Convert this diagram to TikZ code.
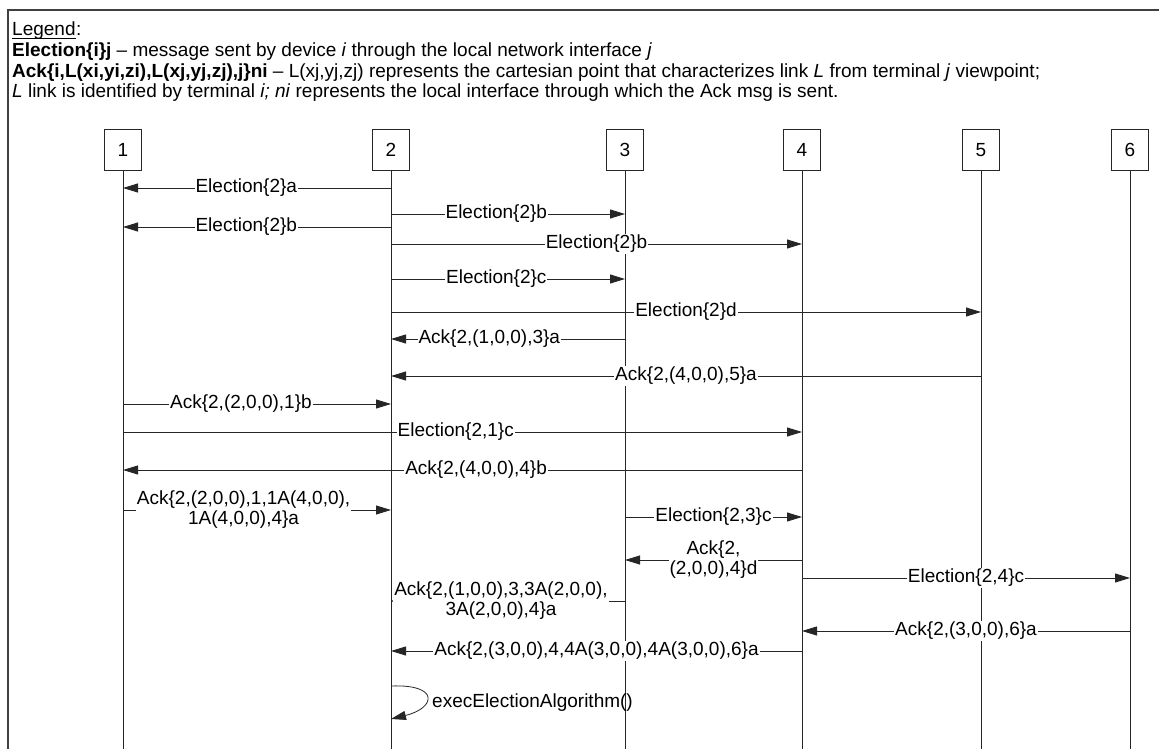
\documentclass[tikz,border=0pt]{standalone}
\usepackage{fontspec}
\setmainfont{Liberation Sans}
\usetikzlibrary{arrows.meta}
\begin{document}
\begin{tikzpicture}[x=1pt,y=-1pt,
  txt/.style={inner sep=0pt, anchor=base west, font=\fontsize{19}{22}\selectfont},
  box/.style={draw=black!85, line width=1pt, minimum width=37pt, minimum height=41pt, inner sep=0pt, font=\fontsize{19}{22}\selectfont},
  life/.style={draw=black!85, line width=1pt},
  msg/.style={draw=black!85, line width=1pt, -{Triangle[length=15pt,width=9pt]}},
  smallmsg/.style={draw=black!85, line width=1pt, -{Triangle[length=5pt,width=4pt]}},
  lbl/.style={fill=white, inner sep=1pt, align=center, font=\fontsize{19}{20}\selectfont},
  uline/.style={draw=black, line width=0.9pt},
  frame/.style={draw=black!75, line width=2pt}]
\useasboundingbox (0,0) rectangle (1159,749);
\fill[white] (0,0) rectangle (1159,749);
\draw[frame] (1159,10) -- (8,10) -- (8,749);
% legend
\node[txt] (leg0) at (12,36) {Legend};
\node[txt, anchor=base west] (leg0c) at (leg0.base east) {:};
\draw[uline] ([yshift=-2.5pt]leg0.base west) -- ([yshift=-2.5pt]leg0.base east);
\node[txt] (leg1) at (12,57) {\textbf{Election\{i\}j} -- message sent by device \textit{i} through the local network interface \textit{j}};
\node[txt] (leg2) at (12,78) {\textbf{Ack\{i,L(xi,yi,zi),L(xj,yj,zj),j\}ni} -- L(xj,yj,zj) represents the cartesian point that characterizes link \textit{L} from terminal \textit{j} viewpoint;};
\node[txt] (leg3) at (12,98) {\textit{L} link is identified by terminal \textit{i; ni} represents the local interface through which the Ack msg is sent.};
% terminals
\node[box] (l1) at (123,150) {1};
\node[box] (l2) at (391,150) {2};
\node[box] (l3) at (625,150) {3};
\node[box] (l4) at (802,150) {4};
\node[box] (l5) at (981,150) {5};
\node[box] (l6) at (1130,150) {6};
\coordinate (b1) at (123,749);
\coordinate (b2) at (391,749);
\coordinate (b3) at (625,749);
\coordinate (b4) at (802,749);
\coordinate (b5) at (981,749);
\coordinate (b6) at (1130,749);
\foreach \i in {1,...,6} {\draw[life] (l\i) -- (b\i);}
% messages
\draw[msg] (l2 |- 0,188) -- node[lbl, pos=0.54]{Election\{2\}a} (l1 |- 0,188);
\draw[msg] (l2 |- 0,214) -- node[lbl, pos=0.45]{Election\{2\}b} (l3 |- 0,214);
\draw[msg] (l2 |- 0,227) -- node[lbl, pos=0.54]{Election\{2\}b} (l1 |- 0,227);
\draw[msg] (l2 |- 0,244) -- node[lbl]{Election\{2\}b} (l4 |- 0,244);
\draw[msg] (l2 |- 0,279) -- node[lbl, pos=0.45]{Election\{2\}c} (l3 |- 0,279);
\draw[msg] (l2 |- 0,312) -- node[lbl]{Election\{2\}d} (l5 |- 0,312);
\draw[msg] (l3 |- 0,339) -- node[lbl, pos=0.58]{Ack\{2,(1,0,0),3\}a} (l2 |- 0,339);
\draw[msg] (l5 |- 0,376) -- node[lbl]{Ack\{2,(4,0,0),5\}a} (l2 |- 0,376);
\draw[msg] (l1 |- 0,404) -- node[lbl, pos=0.44]{Ack\{2,(2,0,0),1\}b} (l2 |- 0,404);
\draw[msg] (l1 |- 0,432) -- node[lbl, pos=0.49]{Election\{2,1\}c} (l4 |- 0,432);
\draw[msg] (l4 |- 0,470) -- node[lbl, pos=0.48]{Ack\{2,(4,0,0),4\}b} (l1 |- 0,470);
\draw[msg] (l1 |- 0,510) -- node[lbl, pos=0.45]{Ack\{2,(2,0,0),1,1A(4,0,0),\\1A(4,0,0),4\}a} (l2 |- 0,510);
\draw[msg] (l3 |- 0,517) -- node[lbl]{Election\{2,3\}c} (l4 |- 0,517);
\draw[msg] (l4 |- 0,560) -- node[lbl]{Ack\{2,\\(2,0,0),4\}d} (l3 |- 0,560);
\draw[msg] (l4 |- 0,578) -- node[lbl]{Election\{2,4\}c} (l6 |- 0,578);
\draw[smallmsg] (l3 |- 0,601) -- node[lbl, pos=0.53]{Ack\{2,(1,0,0),3,3A(2,0,0),\\3A(2,0,0),4\}a} (l2 |- 0,601);
\draw[msg] (l6 |- 0,631) -- node[lbl]{Ack\{2,(3,0,0),6\}a} (l4 |- 0,631);
\draw[msg] (l4 |- 0,651) -- node[lbl]{Ack\{2,(3,0,0),4,4A(3,0,0),4A(3,0,0),6\}a} (l2 |- 0,651);
% self call
\coordinate (s1) at (391,686);
\coordinate (s2) at (391,719);
\draw[msg, line width=0.8pt] (s1) .. controls (440,684) and (436,708) .. (s2);
\node[txt, anchor=west] (exec) at (432,703) {execElectionAlgorithm()};
\end{tikzpicture}
\end{document}
